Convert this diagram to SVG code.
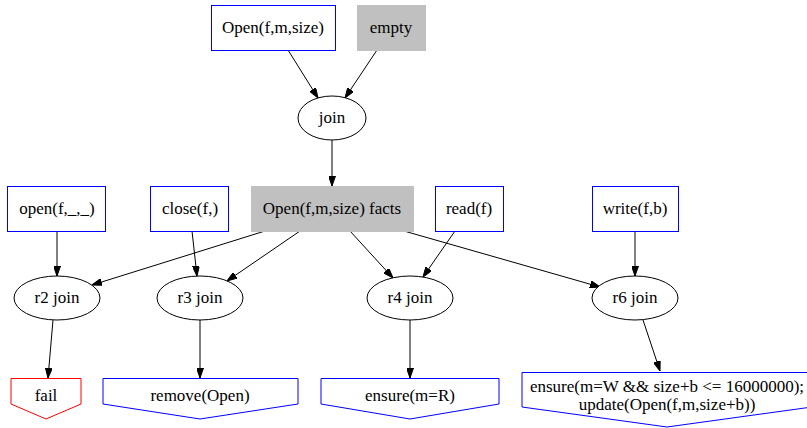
<svg xmlns="http://www.w3.org/2000/svg" width="807" height="428" viewBox="0 0 807 428">
<style>
text{font-family:"Liberation Serif","Times New Roman",Tinos,"DejaVu Serif",serif;font-size:17px;fill:#000;text-anchor:middle}
.src{fill:#fff;stroke:#0000ff;stroke-width:1}
.gray{fill:#c0c0c0;stroke:#c0c0c0;stroke-width:1}
.ell{fill:#fff;stroke:#000;stroke-width:1}
.act{fill:#fff;stroke:#0000ff;stroke-width:1}
.fail{fill:#fff;stroke:#ff0000;stroke-width:1}
.edge{fill:none;stroke:#000;stroke-width:1;marker-end:url(#arr)}
</style>
<defs>
<marker id="arr" markerUnits="userSpaceOnUse" markerWidth="10" markerHeight="7" refX="10" refY="3.5" orient="auto">
<path d="M0,0 L10,3.5 L0,7 z" fill="#000" stroke="#000"/>
</marker>
</defs>
<rect width="807" height="428" fill="#fff"/>
<g id="edges">
<line class="edge" x1="288" y1="50" x2="318" y2="98"/>
<line class="edge" x1="377" y1="50" x2="345" y2="98"/>
<line class="edge" x1="332" y1="140" x2="332" y2="186"/>
<line class="edge" x1="57" y1="231" x2="57" y2="276"/>
<line class="edge" x1="192" y1="231" x2="197" y2="276"/>
<line class="edge" x1="265" y1="231" x2="92" y2="285"/>
<line class="edge" x1="300" y1="231" x2="227" y2="281"/>
<line class="edge" x1="350" y1="231" x2="393" y2="278"/>
<line class="edge" x1="455" y1="231" x2="423" y2="277"/>
<line class="edge" x1="404" y1="231" x2="600" y2="287"/>
<line class="edge" x1="635" y1="231" x2="635" y2="276"/>
<line class="edge" x1="53" y1="320" x2="48" y2="378"/>
<line class="edge" x1="200" y1="320" x2="200" y2="378"/>
<line class="edge" x1="410" y1="320" x2="410" y2="378"/>
<line class="edge" x1="643" y1="320" x2="660" y2="371"/>
</g>
<g id="open_src"><rect class="src" x="211.5" y="5.5" width="124" height="45"/><text x="273" y="33">Open(f,m,size)</text></g>
<g id="empty"><rect class="gray" x="357.5" y="5.5" width="68" height="45"/><text x="391" y="33">empty</text></g>
<g id="join"><ellipse class="ell" cx="332" cy="118" rx="34" ry="22"/><text x="332" y="123">join</text></g>
<g id="facts"><rect class="gray" x="251.5" y="186.5" width="162" height="45"/><text x="332" y="214">Open(f,m,size) facts</text></g>
<g id="open"><rect class="src" x="7.5" y="186.5" width="98" height="45"/><text x="57" y="214">open(f,_,_)</text></g>
<g id="close"><rect class="src" x="150.5" y="186.5" width="78" height="45"/><text x="190" y="214">close(f,)</text></g>
<g id="read"><rect class="src" x="435.5" y="186.5" width="68" height="45"/><text x="469" y="214">read(f)</text></g>
<g id="write"><rect class="src" x="592.5" y="186.5" width="86" height="45"/><text x="635" y="214">write(f,b)</text></g>
<g id="r2"><ellipse class="ell" cx="57" cy="298" rx="43" ry="22"/><text x="57" y="303">r2 join</text></g>
<g id="r3"><ellipse class="ell" cx="200" cy="298" rx="43" ry="22"/><text x="200" y="303">r3 join</text></g>
<g id="r4"><ellipse class="ell" cx="410" cy="298" rx="43" ry="22"/><text x="410" y="303">r4 join</text></g>
<g id="r6"><ellipse class="ell" cx="635" cy="298" rx="43" ry="22"/><text x="635" y="303">r6 join</text></g>
<g id="fail"><path class="fail" d="M11,378.5 L81,378.5 L81,404 L46,419 L11,404 Z"/><text x="46" y="401">fail</text></g>
<g id="remove"><path class="act" d="M103,378.5 L298,378.5 L298,404 L200,419 L103,404 Z"/><text x="200" y="401">remove(Open)</text></g>
<g id="ensureR"><path class="act" d="M321,378.5 L499,378.5 L499,404 L410,419 L321,404 Z"/><text x="410" y="401">ensure(m=R)</text></g>
<g id="ensureW"><path class="act" d="M522,372.5 L812,372.5 L812,407 L667,427 L522,407 Z"/><text x="667" y="392">ensure(m=W &amp;&amp; size+b &lt;= 16000000);</text><text x="667" y="410">update(Open(f,m,size+b))</text></g>
</svg>
